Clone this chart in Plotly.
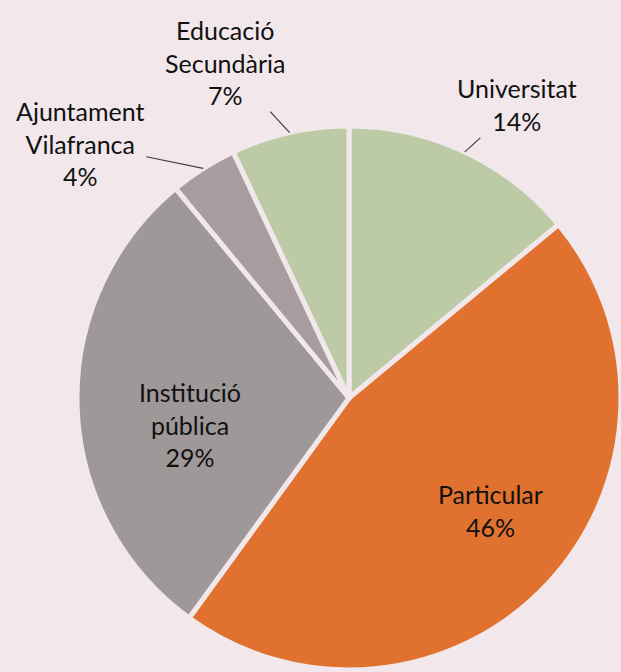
import numpy as np
import plotly.graph_objects as go

# Slice data, clockwise from 12 o'clock
labels = ["Universitat", "Particular", "Institució pública", "Ajuntament Vilafranca", "Educació Secundària"]
text_labels = ["Universitat", "Particular", "Institució<br>pública", "Ajuntament<br>Vilafranca", "Educació<br>Secundària"]
values = [14, 46, 29, 4, 7]
colors = ["#BCCBA6", "#E0712E", "#9E9899", "#A89C9E", "#BCCBA6"]
outside = [True, False, False, True, True]

BG = "#F2E7EB"
W, H = 621, 672

# pie geometry (pixels, from top-left)
cx, cy, r = 349, 398, 272
dom_x = [(cx - r) / W, min(1.0, (cx + r) / W)]
dom_y = [(H - cy - r) / H, (H - cy + r) / H]

fig = go.Figure(go.Pie(
    labels=labels, values=values, sort=False, direction="clockwise", rotation=0,
    marker=dict(colors=colors, line=dict(color=BG, width=5)),
    textinfo="none", domain=dict(x=dom_x, y=dom_y), showlegend=False,
    hoverinfo="label+percent",
))

# label offsets (pixels) from the slice edge at its mid angle
label_offsets = [(52, -47), (-57, -74), (113, 18), (-123, -25), (-65, -70)]
pct = np.array(values) / np.sum(values) * 100
cum = np.cumsum([0] + values[:-1])
for i, (t, p, o) in enumerate(zip(text_labels, pct, outside)):
    ang = np.deg2rad((cum[i] + values[i] / 2) / np.sum(values) * 360)
    ex = cx + r * np.sin(ang)
    ey = cy - r * np.cos(ang)
    dx, dy = label_offsets[i]
    font = dict(family="Lato", size=25, color="#111111")
    if o:
        fig.add_annotation(
            x=ex / W, y=1 - ey / H, xref="paper", yref="paper",
            text=f"{t}<br>{p:.0f}%", showarrow=True, arrowhead=0, arrowwidth=1.2,
            arrowcolor="#404040", ax=dx, ay=dy, font=font,
        )
    else:
        fig.add_annotation(
            x=(ex + dx) / W, y=1 - (ey + dy) / H, xref="paper", yref="paper",
            xanchor="center", yanchor="middle",
            text=f"{t}<br>{p:.0f}%", showarrow=False, font=font,
        )

fig.update_layout(
    width=W, height=H, margin=dict(l=0, r=0, t=0, b=0),
    paper_bgcolor=BG, plot_bgcolor=BG,
)
fig.write_html("out.html", config={"displayModeBar": False},
               post_script="document.body.style.margin='0';document.body.style.overflow='hidden';")
